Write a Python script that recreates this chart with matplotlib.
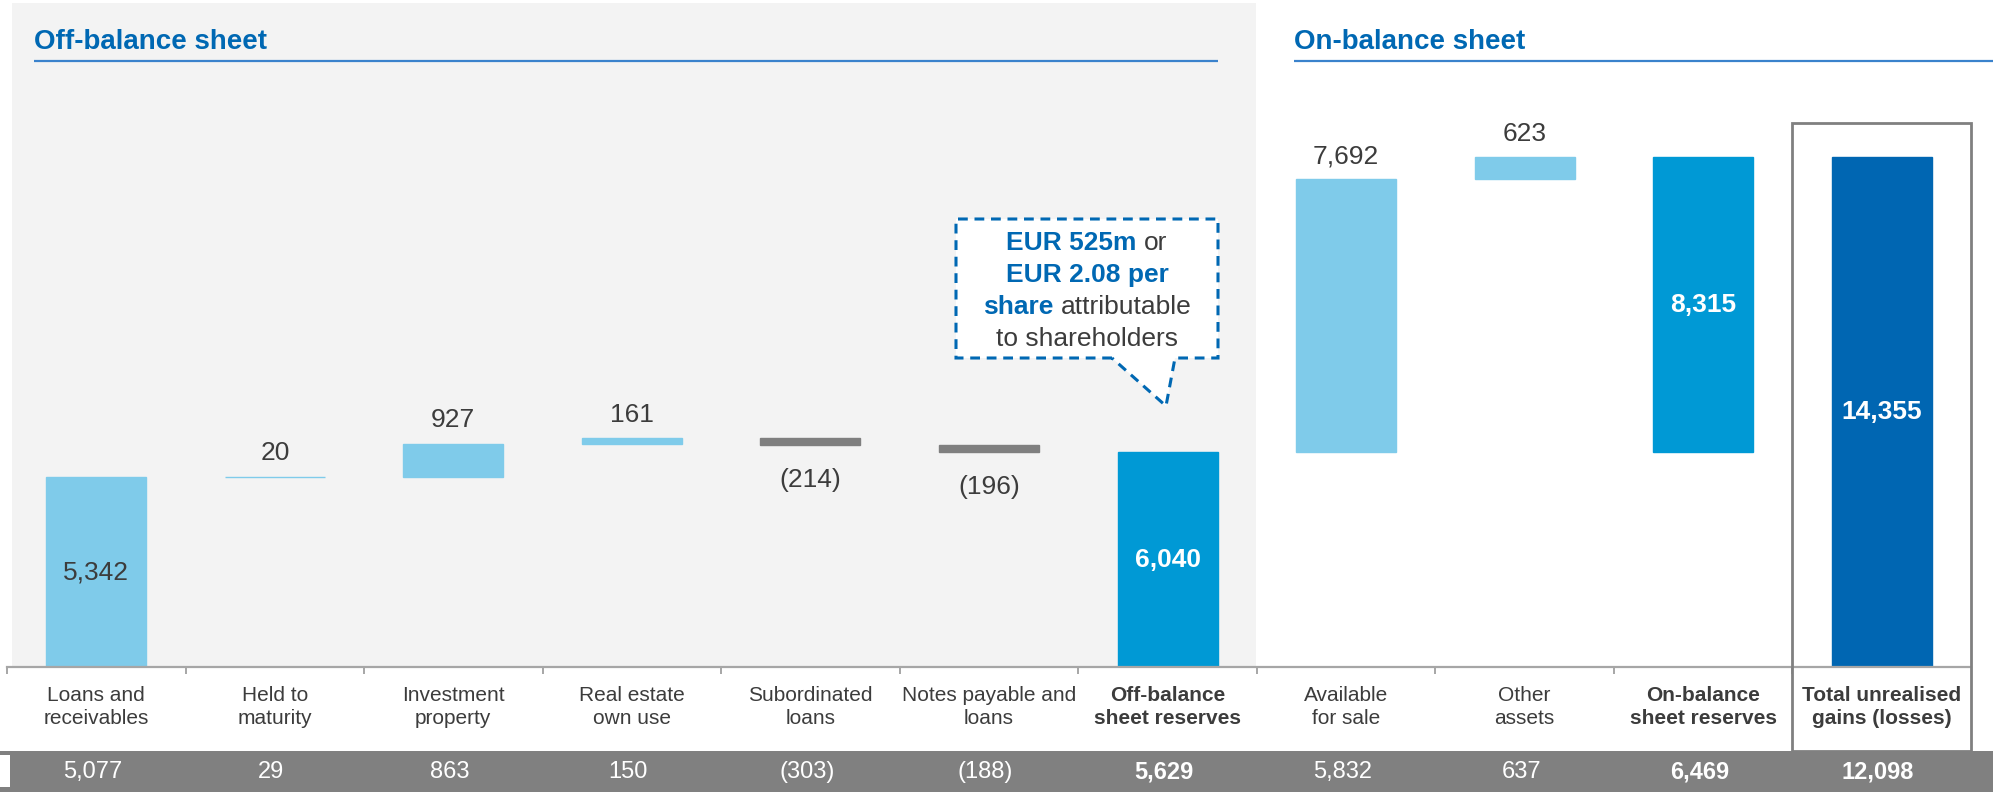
import matplotlib
matplotlib.use("Agg")
import matplotlib.pyplot as plt
import numpy as np
from matplotlib.patches import Rectangle, Polygon
from matplotlib.transforms import blended_transform_factory

plt.rcParams['font.family'] = ['Liberation Sans', 'DejaVu Sans']

# ---- data -------------------------------------------------------------
categories = [
    "Loans and\nreceivables", "Held to\nmaturity", "Investment\nproperty",
    "Real estate\nown use", "Subordinated\nloans", "Notes payable and\nloans",
    "Off-balance\nsheet reserves", "Available\nfor sale", "Other\nassets",
    "On-balance\nsheet reserves", "Total unrealised\ngains (losses)",
]
amounts = [5342, 20, 927, 161, -214, -196, 6040, 7692, 623, 8315, 14355]
kinds = ["step", "step", "step", "step", "step", "step",
         "subtotal", "step", "step", "subtotal", "total"]
value_labels = ["5,342", "20", "927", "161", "(214)", "(196)",
                "6,040", "7,692", "623", "8,315", "14,355"]
prior_year_labels = ["5,077", "29", "863", "150", "(303)", "(188)",
                     "5,629", "5,832", "637", "6,469", "12,098"]

# ---- style ------------------------------------------------------------
C_LIGHT = "#7FCBEA"
C_MID = "#0099D5"
C_DARK = "#0066B2"
C_NEG = "#7F7F7F"
C_BG = "#F3F3F3"
C_TITLE = "#0068B3"
C_RULE = "#3A82CC"
C_TEXT = "#3C3C3C"
C_AXIS = "#A6A6A6"
bold_cats = {6, 9, 10}
label_place = ["inside", "above", "above", "above", "below", "below",
               "inside", "above", "above", "inside", "inside"]

W, H = 1993, 792
fig = plt.figure(figsize=(W / 100, H / 100), dpi=100)

# background layer in pixel coordinates
bg = fig.add_axes([0, 0, 1, 1], zorder=0)
bg.set_xlim(0, W); bg.set_ylim(H, 0); bg.axis("off")

# chart layer
base_px = 667
x0_px, x1_px = 7, 1971
top_val = 16000
px_per_unit = 510 / 14355
ax_h_px = top_val * px_per_unit
ax = fig.add_axes([x0_px / W, (H - base_px) / H, (x1_px - x0_px) / W, ax_h_px / H], zorder=1)
ax.patch.set_visible(False)
ax.set_xlim(-0.5, len(categories) - 0.5)
ax.set_ylim(0, top_val)

# foreground layer in pixel coordinates
fg = fig.add_axes([0, 0, 1, 1], zorder=2)
fg.patch.set_visible(False)
fg.set_xlim(0, W); fg.set_ylim(H, 0); fg.axis("off")

# off-balance section shading
bg.add_patch(Rectangle((12, 3), 1256.5 - 12, base_px - 3, color=C_BG, lw=0))

# section titles and rules
fg.text(34, 42, "Off-balance sheet", fontsize=20, fontweight="bold",
        color=C_TITLE, ha="left", va="center")
fg.plot([34, 1218], [61, 61], color=C_RULE, lw=1.6, solid_capstyle="butt")
fg.text(1294, 42, "On-balance sheet", fontsize=20, fontweight="bold",
        color=C_TITLE, ha="left", va="center")
fg.plot([1294, W], [61, 61], color=C_RULE, lw=1.6, solid_capstyle="butt")

# waterfall bars
x = np.arange(len(categories))
running = 0.0
section_start = 0.0
lows, highs, colors = [], [], []
for v, kind in zip(amounts, kinds):
    if kind == "step":
        lo, hi = sorted((running, running + v))
        running += v
        col = C_LIGHT if v >= 0 else C_NEG
    elif kind == "subtotal":
        lo, hi = section_start, section_start + v
        section_start = running
        col = C_MID
    else:
        lo, hi = 0.0, v
        col = C_DARK
    lows.append(lo); highs.append(hi); colors.append(col)

lows = np.array(lows); highs = np.array(highs)
ax.bar(x, highs - lows, bottom=lows, width=0.56, color=colors,
       edgecolor=colors, lw=1.0, zorder=2)

# value labels
for i, (lo, hi, lab, place, kind) in enumerate(zip(lows, highs, value_labels, label_place, kinds)):
    if place == "inside":
        white = kind != "step"
        ax.text(i, (lo + hi) / 2, lab, ha="center", va="center", fontsize=19,
                color="white" if white else C_TEXT,
                fontweight="bold" if white else "normal", zorder=3)
    elif place == "above":
        ax.annotate(lab, (i, hi), xytext=(0, 8), textcoords="offset points",
                    ha="center", va="bottom", fontsize=19, color=C_TEXT)
    else:
        ax.annotate(lab, (i, lo), xytext=(0, -16), textcoords="offset points",
                    ha="center", va="top", fontsize=19, color=C_TEXT)

# axis line and boundary ticks
for s in ["top", "right", "left"]:
    ax.spines[s].set_visible(False)
ax.spines["bottom"].set_color(C_AXIS)
ax.spines["bottom"].set_linewidth(1.6)
ax.set_yticks([])
ax.set_xticks(np.arange(-0.5, len(categories) - 1, 1.0))
ax.set_xticklabels([])
ax.tick_params(axis="x", direction="out", length=5, width=1.4, color=C_AXIS)

# category labels and prior-year row
tr = blended_transform_factory(ax.transData, fg.transData)
fg.add_patch(Rectangle((0, 751), W, H - 751, color="#808080", lw=0))
fg.add_patch(Rectangle((0, 755), 10, 32, color="white", lw=0))
for i, (cat, prev) in enumerate(zip(categories, prior_year_labels)):
    b = i in bold_cats
    fg.text(i, 707, cat, transform=tr, ha="center", va="center", fontsize=15,
            color=C_TEXT, fontweight="bold" if b else "normal", linespacing=1.32)
    fg.text(i - 0.02, 772, prev, transform=tr, ha="center", va="center",
            fontsize=17, color="white", fontweight="bold" if b else "normal")

# frame around the grand total
fg.add_patch(Rectangle((1792, 123), 1971 - 1792, 751 - 123, fill=False,
                       edgecolor="#808080", lw=2.0))

# call-out bubble
bubble = [(1112, 358), (956, 358), (956, 219), (1218, 219), (1218, 358),
          (1175, 358), (1166, 406)]
fg.add_patch(Polygon(bubble, closed=True, facecolor="white", edgecolor=C_TITLE,
                     lw=2.2, linestyle=(0, (3.2, 2.2)), joinstyle="miter"))

fig.canvas.draw()
renderer = fig.canvas.get_renderer()
space_px = 0.278 * 19 * 100 / 72
lines = [
    (243, [("EUR 525m", True), ("or", False)]),
    (275, [("EUR 2.08 per", True)]),
    (307, [("share", True), ("attributable", False)]),
    (339, [("to shareholders", False)]),
]
cx = (956 + 1218) / 2
for y, parts in lines:
    texts = []
    for s, b in parts:
        t = fg.text(0, y, s, fontsize=19, ha="left", va="center",
                    fontweight="bold" if b else "normal",
                    color=C_TITLE if b else C_TEXT)
        texts.append(t)
    widths = [t.get_window_extent(renderer).width for t in texts]
    total = sum(widths) + space_px * (len(texts) - 1)
    pos = cx - total / 2
    for t, w in zip(texts, widths):
        t.set_x(pos)
        pos += w + space_px

fig.savefig("out.png", dpi=100)
